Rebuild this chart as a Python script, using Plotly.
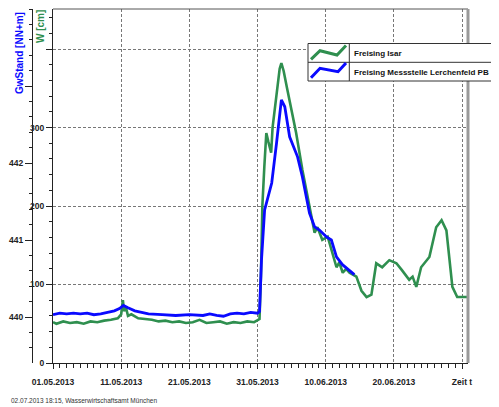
import plotly.graph_objects as go

# ---------------- data ----------------
isar_time = [
    "2013-05-01 00:00", "2013-05-01 12:00", "2013-05-02 12:00", "2013-05-03 12:00",
    "2013-05-04 12:00", "2013-05-05 12:00", "2013-05-06 12:00", "2013-05-07 12:00",
    "2013-05-08 12:00", "2013-05-09 12:00", "2013-05-10 12:00", "2013-05-11 00:00",
    "2013-05-11 06:00", "2013-05-11 10:00", "2013-05-11 16:00", "2013-05-12 00:00",
    "2013-05-12 12:00", "2013-05-13 12:00", "2013-05-14 12:00", "2013-05-15 12:00",
    "2013-05-16 12:00", "2013-05-17 12:00", "2013-05-18 12:00", "2013-05-19 12:00",
    "2013-05-20 12:00", "2013-05-21 12:00", "2013-05-22 12:00", "2013-05-23 12:00",
    "2013-05-24 12:00", "2013-05-25 12:00", "2013-05-26 12:00", "2013-05-27 12:00",
    "2013-05-28 12:00", "2013-05-29 12:00", "2013-05-30 12:00", "2013-05-31 00:00",
    "2013-05-31 07:00", "2013-05-31 12:00", "2013-05-31 17:00", "2013-06-01 00:00",
    "2013-06-01 07:00", "2013-06-01 14:00", "2013-06-02 00:00", "2013-06-02 05:00",
    "2013-06-02 18:00", "2013-06-03 06:00", "2013-06-03 12:00", "2013-06-03 20:00",
    "2013-06-04 08:00", "2013-06-04 17:00", "2013-06-05 16:00", "2013-06-06 14:00",
    "2013-06-07 15:00", "2013-06-08 09:00", "2013-06-08 19:00", "2013-06-09 12:00",
    "2013-06-10 07:00", "2013-06-11 00:00", "2013-06-11 14:00", "2013-06-12 00:00",
    "2013-06-12 12:00", "2013-06-13 00:00", "2013-06-13 12:00", "2013-06-14 12:00",
    "2013-06-15 06:00", "2013-06-16 00:00", "2013-06-16 17:00", "2013-06-17 10:00",
    "2013-06-18 07:00", "2013-06-19 08:00", "2013-06-20 09:00", "2013-06-21 05:00",
    "2013-06-22 06:00", "2013-06-22 18:00", "2013-06-23 07:00", "2013-06-24 00:00",
    "2013-06-25 05:00", "2013-06-26 05:00", "2013-06-27 00:00", "2013-06-27 17:00",
    "2013-06-28 14:00", "2013-06-29 07:00", "2013-06-30 20:00",
]
isar_w = [
    52, 50, 53, 51,
    52, 50, 53, 52,
    54, 55, 57, 62,
    80, 66, 72, 60,
    62, 57, 56, 55,
    53, 54, 52, 53,
    51, 52, 55, 51,
    52, 53, 50, 52,
    51, 53, 52, 54,
    56, 110, 200, 250,
    293, 282, 268, 300,
    340, 375, 382, 372,
    350, 335, 293, 246,
    199, 166, 173, 157,
    161, 140, 122, 128,
    115, 120, 115, 110,
    92, 84, 87, 127,
    122, 131, 127, 118,
    106, 110, 97, 122,
    135, 173, 182, 169,
    97, 84, 84,
]

gw_time = [
    "2013-05-01 00:00", "2013-05-02 00:00", "2013-05-03 00:00", "2013-05-04 00:00",
    "2013-05-05 00:00", "2013-05-06 00:00", "2013-05-07 00:00", "2013-05-08 00:00",
    "2013-05-09 00:00", "2013-05-10 00:00", "2013-05-10 18:00", "2013-05-11 08:00",
    "2013-05-12 00:00", "2013-05-13 00:00", "2013-05-14 00:00", "2013-05-15 00:00",
    "2013-05-17 00:00", "2013-05-19 00:00", "2013-05-21 00:00", "2013-05-23 00:00",
    "2013-05-24 00:00", "2013-05-25 00:00", "2013-05-26 00:00", "2013-05-27 00:00",
    "2013-05-28 00:00", "2013-05-29 00:00", "2013-05-30 00:00", "2013-05-31 00:00",
    "2013-05-31 07:00", "2013-05-31 14:00", "2013-06-01 01:00", "2013-06-01 18:00",
    "2013-06-02 02:00", "2013-06-02 19:00", "2013-06-03 12:00", "2013-06-04 00:00",
    "2013-06-04 17:00", "2013-06-05 21:00", "2013-06-06 14:00", "2013-06-07 15:00",
    "2013-06-08 09:00", "2013-06-09 02:00", "2013-06-10 03:00", "2013-06-10 20:00",
    "2013-06-11 14:00", "2013-06-12 11:00", "2013-06-14 05:00",
]
gw_stand = [
    440.03, 440.05, 440.04, 440.05,
    440.04, 440.05, 440.03, 440.04,
    440.06, 440.08, 440.11, 440.15,
    440.12, 440.08, 440.06, 440.04,
    440.03, 440.02, 440.03, 440.02,
    440.04, 440.02, 440.01, 440.04,
    440.05, 440.04, 440.06, 440.05,
    440.07, 440.74, 441.39, 441.65,
    441.74, 442.26, 442.82, 442.73,
    442.34, 442.08, 441.82, 441.35,
    441.17, 441.13, 441.04, 441.00,
    440.78, 440.68, 440.55,
]

x_tick_vals = ["2013-05-01", "2013-05-11", "2013-05-21", "2013-05-31",
               "2013-06-10", "2013-06-20", "2013-06-30"]
x_tick_text = ["01.05.2013", "11.05.2013", "21.05.2013", "31.05.2013",
               "10.06.2013", "20.06.2013", "Zeit t"]
w_tick_vals = [0, 100, 200, 300, 400]
w_tick_text = ["0", "100", "200", "300", ""]
gw_tick_vals = [440, 441, 442, 443]
gw_tick_text = ["440", "441", "442", ""]

series_names = ["Freising Isar", "Freising Messstelle Lerchenfeld PB"]

# ---------------- style ----------------
GREEN = "#2f8f4f"
BLUE = "#0a0aff"
FONT = "Liberation Sans, Arial, sans-serif"
OFF = 8                       # default body margin of the html page
W, H = 499 - OFF, 407 - OFF
ML, MR, MT, MB = 10 - OFF, 31, 9 - OFF, 44
PW, PH = W - ML - MR, H - MT - MB      # 458 x 354


def px(x):   # page pixel -> paper
    return (x - 10) / PW


def py(y):
    return (363 - y) / PH


bold = lambda lst: ["<b>%s</b>" % t if t else "" for t in lst]

fig = go.Figure()
fig.add_trace(go.Scatter(x=isar_time, y=isar_w, mode="lines", name=series_names[0],
                         line=dict(color=GREEN, width=2.6), yaxis="y"))
fig.add_trace(go.Scatter(x=gw_time, y=gw_stand, mode="lines", name=series_names[1],
                         line=dict(color=BLUE, width=2.8), yaxis="y2"))

TICKFONT = dict(family=FONT, size=8.5, color="#222")
fig.update_layout(
    width=W, height=H,
    margin=dict(l=ML, r=MR, t=MT, b=MB, pad=0, autoexpand=False),
    paper_bgcolor="white", plot_bgcolor="white",
    showlegend=False,
    font=dict(family=FONT, size=9, color="#222"),
    xaxis=dict(
        type="date", domain=[px(53), 1], automargin=False,
        range=["2013-05-01 00:00", "2013-06-30 21:00"],
        tickmode="array", tickvals=x_tick_vals, ticktext=bold(x_tick_text),
        ticks="outside", ticklen=5, tickcolor="#222", tickwidth=1,
        ticklabelstandoff=6,
        showline=True, linecolor="#222", linewidth=1,
        showgrid=True, gridcolor="#777", gridwidth=1, griddash="3px,2px",
        zeroline=False, tickfont=TICKFONT,
        minor=dict(tickmode="linear", tick0="2013-05-01", dtick=86400000,
                   ticks="outside", ticklen=4, tickcolor="#222", showgrid=False),
    ),
    yaxis=dict(
        range=[0, 451], automargin=False,
        tickmode="array", tickvals=w_tick_vals, ticktext=bold(w_tick_text),
        ticks="outside", ticklen=6, tickcolor="#222",
        showline=True, linecolor="#222", linewidth=1,
        showgrid=True, gridcolor="#777", gridwidth=1, griddash="3px,2px",
        zeroline=False, tickfont=TICKFONT,
        minor=dict(tickmode="linear", tick0=0, dtick=20, ticks="outside",
                   ticklen=3, tickcolor="#222", showgrid=False),
    ),
    yaxis2=dict(
        range=[439.403, 444.0], overlaying="y", anchor="free", side="left",
        position=px(32), automargin=False,
        tickmode="array", tickvals=gw_tick_vals, ticktext=bold(gw_tick_text),
        ticks="outside", ticklen=7, tickcolor="#222",
        showline=True, linecolor="#222", linewidth=1,
        showgrid=False, zeroline=False, tickfont=TICKFONT,
        minor=dict(tickmode="linear", tick0=440, dtick=0.2, ticks="outside",
                   ticklen=3, tickcolor="#222", showgrid=False),
    ),
)

shapes = []
# frame: top line and thick gray right border
shapes.append(dict(type="line", xref="paper", yref="paper", x0=px(53), x1=1,
                   y0=1, y1=1, line=dict(color="#555", width=1)))
shapes.append(dict(type="line", xref="paper", yref="paper", x0=px(468), x1=px(468),
                   y0=py(363), y1=1, line=dict(color="#9a9a9a", width=3)))
# custom legend box
shapes.append(dict(type="rect", xref="paper", yref="paper", x0=px(308), x1=px(520),
                   y0=py(81), y1=py(43.5), line=dict(color="#333", width=1),
                   fillcolor="white", layer="above"))
shapes.append(dict(type="line", xref="paper", yref="paper", x0=px(308), x1=px(520),
                   y0=py(62.3), y1=py(62.3), line=dict(color="#333", width=1),
                   layer="above"))
shapes.append(dict(type="line", xref="paper", yref="paper", x0=px(349.3), x1=px(349.3),
                   y0=py(81), y1=py(43.5), line=dict(color="#333", width=1),
                   layer="above"))


def zig(pts):
    return "M " + " L ".join("%f,%f" % (px(a), py(b)) for a, b in pts)


shapes.append(dict(type="path", xref="paper", yref="paper",
                   path=zig([(311, 59.3), (320, 50.7), (337, 55), (346, 45.5)]),
                   line=dict(color=GREEN, width=3), layer="above"))
shapes.append(dict(type="path", xref="paper", yref="paper",
                   path=zig([(311, 77.7), (320, 68.3), (338, 71.7), (346, 63)]),
                   line=dict(color=BLUE, width=3), layer="above"))
fig.update_layout(shapes=shapes)

annotations = [
    dict(text="<b>%s</b>" % series_names[0], xref="paper", yref="paper",
         x=px(352), y=py(53.5), xanchor="left", yanchor="middle", showarrow=False,
         font=dict(family=FONT, size=8, color="#111")),
    dict(text="<b>%s</b>" % series_names[1], xref="paper", yref="paper",
         x=px(352), y=py(72.5), xanchor="left", yanchor="middle", showarrow=False,
         font=dict(family=FONT, size=8, color="#111")),
    dict(text="<b>GwStand [NN+m]</b>", xref="paper", yref="paper",
         x=px(20), y=py(53), xanchor="center", yanchor="middle", textangle=-90,
         showarrow=False, font=dict(family=FONT, size=10, color=BLUE)),
    dict(text="<b>W [cm]</b>", xref="paper", yref="paper",
         x=px(41), y=py(27), xanchor="center", yanchor="middle", textangle=-90,
         showarrow=False, font=dict(family=FONT, size=10, color=GREEN)),
    dict(text="02.07.2013 18:15, Wasserwirtschaftsamt München", xref="paper",
         yref="paper", x=px(9), y=py(400), xanchor="left", yanchor="middle",
         showarrow=False, font=dict(family=FONT, size=6.5, color="#333")),
]
fig.update_layout(annotations=annotations)

fig.write_html("out.html")
